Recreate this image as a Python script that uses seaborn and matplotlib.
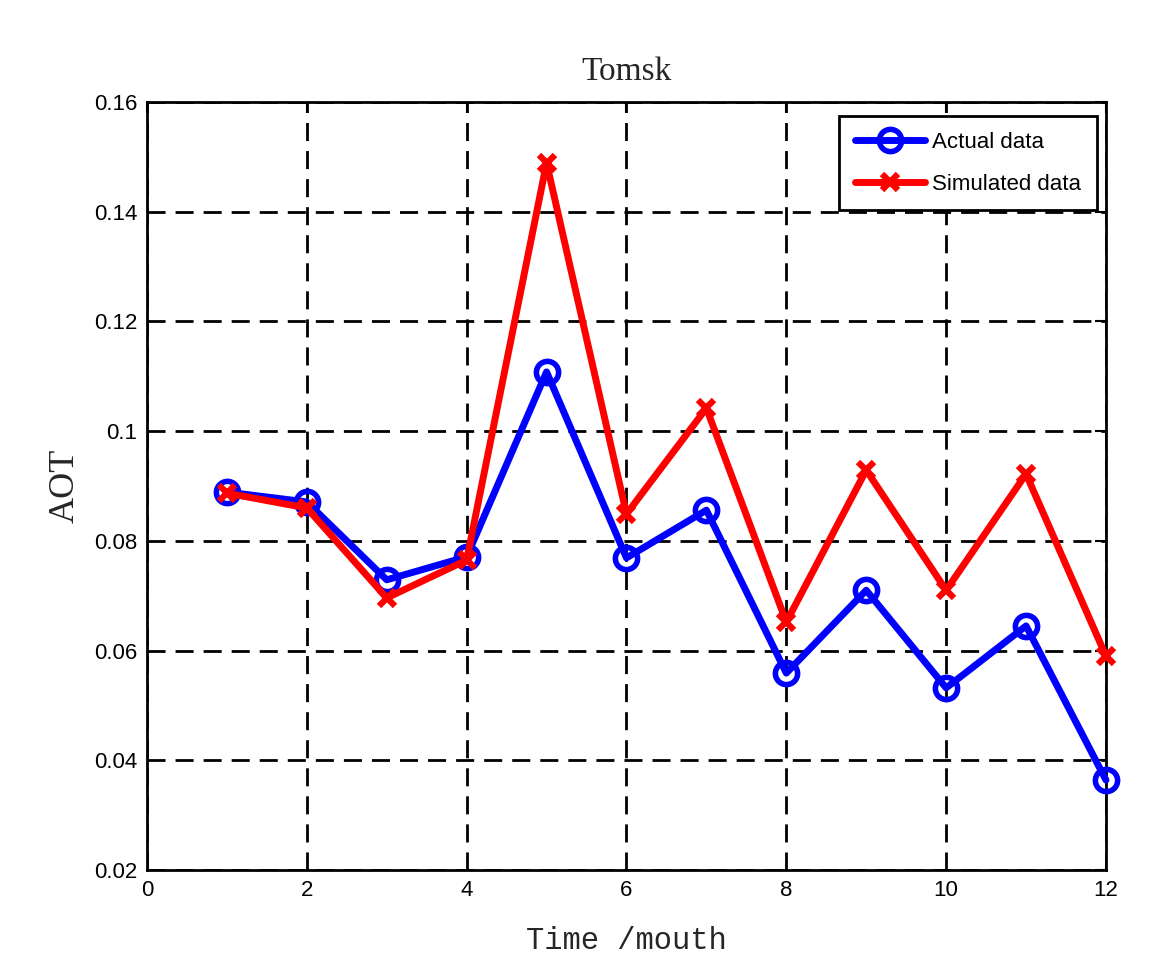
import matplotlib
matplotlib.use("Agg")
import matplotlib.pyplot as plt
import seaborn as sns
import pandas as pd

months = [1, 2, 3, 4, 5, 6, 7, 8, 9, 10, 11, 12]
actual = [0.0889, 0.0871, 0.0729, 0.0771, 0.1108, 0.0769, 0.0856, 0.0559, 0.0710, 0.0532, 0.0645, 0.0364]
simulated = [0.0887, 0.0860, 0.0696, 0.0765, 0.1489, 0.0849, 0.1042, 0.0652, 0.0929, 0.0710, 0.0922, 0.0590]
x_ticks = [0, 2, 4, 6, 8, 10, 12]
y_ticks = [0.02, 0.04, 0.06, 0.08, 0.10, 0.12, 0.14, 0.16]
y_tick_labels = ["0.02", "0.04", "0.06", "0.08", "0.1", "0.12", "0.14", "0.16"]

sns.set_theme(style="white")
plt.rcParams["font.family"] = ["Liberation Sans", "DejaVu Sans"]

df = pd.DataFrame({
    "month": months * 2,
    "AOT": actual + simulated,
    "series": ["Actual data"] * len(months) + ["Simulated data"] * len(months),
})

fig = plt.figure(figsize=(11.61, 9.68), dpi=100)
ax = fig.add_axes([0.1266, 0.1012, 0.826, 0.7934])

sns.lineplot(data=df[df.series == "Actual data"], x="month", y="AOT", ax=ax,
             color="#0000ff", linewidth=5, marker="o", markersize=16,
             markerfacecolor="none", markeredgecolor="#0000ff", markeredgewidth=4,
             label="Actual data", clip_on=False, zorder=3)
sns.lineplot(data=df[df.series == "Simulated data"], x="month", y="AOT", ax=ax,
             color="#ff0000", linewidth=5, marker="x", markersize=11,
             markeredgecolor="#ff0000", markeredgewidth=4.5,
             label="Simulated data", clip_on=False, zorder=4)

ax.set_xlim(0, 12)
ax.set_ylim(0.02, 0.16)
ax.set_xticks(x_ticks)
ax.set_xticklabels([str(t) for t in x_ticks])
ax.set_yticks(y_ticks)
ax.set_yticklabels(y_tick_labels)
ax.tick_params(axis="both", direction="in", length=8, width=1.5, labelsize=16,
               top=True, right=True, colors="black", pad=7)

ax.grid(True, color="black", linestyle=(0, (6.5, 3.6)), linewidth=2)
ax.set_axisbelow(True)
for s in ax.spines.values():
    s.set_color("black")
    s.set_linewidth(2)
    s.set_zorder(2.5)

ax.set_title("Tomsk", fontsize=24, family=["Liberation Serif", "DejaVu Serif"], pad=16)
ax.set_xlabel("Time /mouth", fontsize=22, family=["Liberation Mono", "DejaVu Sans Mono"], labelpad=18)
ax.set_ylabel("AOT", fontsize=26, family=["Liberation Serif", "DejaVu Serif"], labelpad=9)

leg = ax.legend(loc="upper right", fontsize=16, frameon=True, fancybox=False,
                edgecolor="black", framealpha=1, borderpad=0.7, handlelength=3.15,
                handletextpad=0.35, labelspacing=0.95, borderaxespad=0,
                bbox_to_anchor=(0.9906, 0.9818))
leg.get_frame().set_linewidth(2)
for t in leg.get_texts():
    t.set_color("black")

fig.savefig("out.png", dpi=100, facecolor="white")
